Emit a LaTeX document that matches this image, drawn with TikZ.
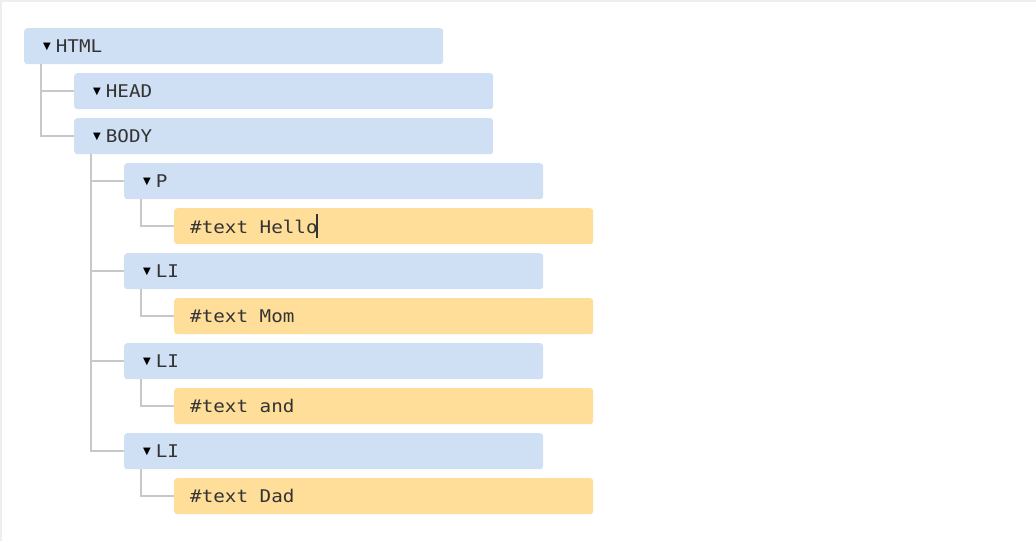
\documentclass[tikz,border=0pt]{standalone}
\usepackage{fontspec}
\setmainfont{DejaVu Sans}
\setmonofont[FakeStretch=1.1]{DejaVu Sans Mono}
\usetikzlibrary{positioning}

\definecolor{elemblue}{RGB}{207,224,244}
\definecolor{textorange}{RGB}{255,222,153}
\definecolor{treegrey}{RGB}{200,200,200}
\definecolor{inkdark}{RGB}{51,51,51}
\definecolor{framegrey}{RGB}{240,238,236}

\newcommand{\opentri}{{\rmfamily\fontsize{10}{10}\selectfont\color{black}\raisebox{3.5pt}{▼}}\hspace{5pt}}
\newcommand{\tnode}[1]{\#text\hspace{11.6pt}#1}

\tikzset{
  elem/.style={fill=elemblue, rounded corners=3pt, anchor=north west,
    minimum height=36pt, inner xsep=19pt, inner ysep=0pt, text width=381pt,
    align=left, text=inkdark, font=\fontsize{17.5}{17.5}\ttfamily},
  txt/.style={fill=textorange, rounded corners=3pt, anchor=north west,
    minimum height=36pt, inner xsep=16pt, inner ysep=0pt, text width=387pt,
    align=left, text=inkdark, font=\fontsize{17.5}{17.5}\ttfamily},
  tree/.style={draw=treegrey, line width=1.6pt}
}

\begin{document}
\begin{tikzpicture}[x=1pt,y=-1pt]
\useasboundingbox (0,0) rectangle (1036,541);
\draw[framegrey, line width=1.5pt] (0.75,541) -- (0.75,0.75) -- (1036,0.75);

\node[elem] (html) at (24,28) {\opentri HTML};
\node[elem] (head) at (74,73) {\opentri HEAD};
\node[elem] (body) at (74,118) {\opentri BODY};
\node[elem] (p) at (124,163) {\opentri P};
\node[txt] (t1) at (174,208) {\tnode{Hello}\kern-2pt\rule[-5pt]{2.8pt}{24pt}};
\node[elem] (li1) at (124,253) {\opentri LI};
\node[txt] (t2) at (174,298) {\tnode{Mom}};
\node[elem] (li2) at (124,343) {\opentri LI};
\node[txt] (t3) at (174,388) {\tnode{and}};
\node[elem] (li3) at (124,433) {\opentri LI};
\node[txt] (t4) at (174,478) {\tnode{Dad}};

% tree lines
\draw[tree] ([xshift=17pt]html.south west) |- (body.west);
\draw[tree] ([xshift=17pt]html.south west) |- (head.west);
\draw[tree] ([xshift=17pt]body.south west) |- (li3.west);
\draw[tree] ([xshift=17pt]body.south west) |- (p.west);
\draw[tree] ([xshift=17pt]body.south west) |- (li1.west);
\draw[tree] ([xshift=17pt]body.south west) |- (li2.west);
\draw[tree] ([xshift=17pt]p.south west) |- (t1.west);
\draw[tree] ([xshift=17pt]li1.south west) |- (t2.west);
\draw[tree] ([xshift=17pt]li2.south west) |- (t3.west);
\draw[tree] ([xshift=17pt]li3.south west) |- (t4.west);
\end{tikzpicture}
\end{document}
